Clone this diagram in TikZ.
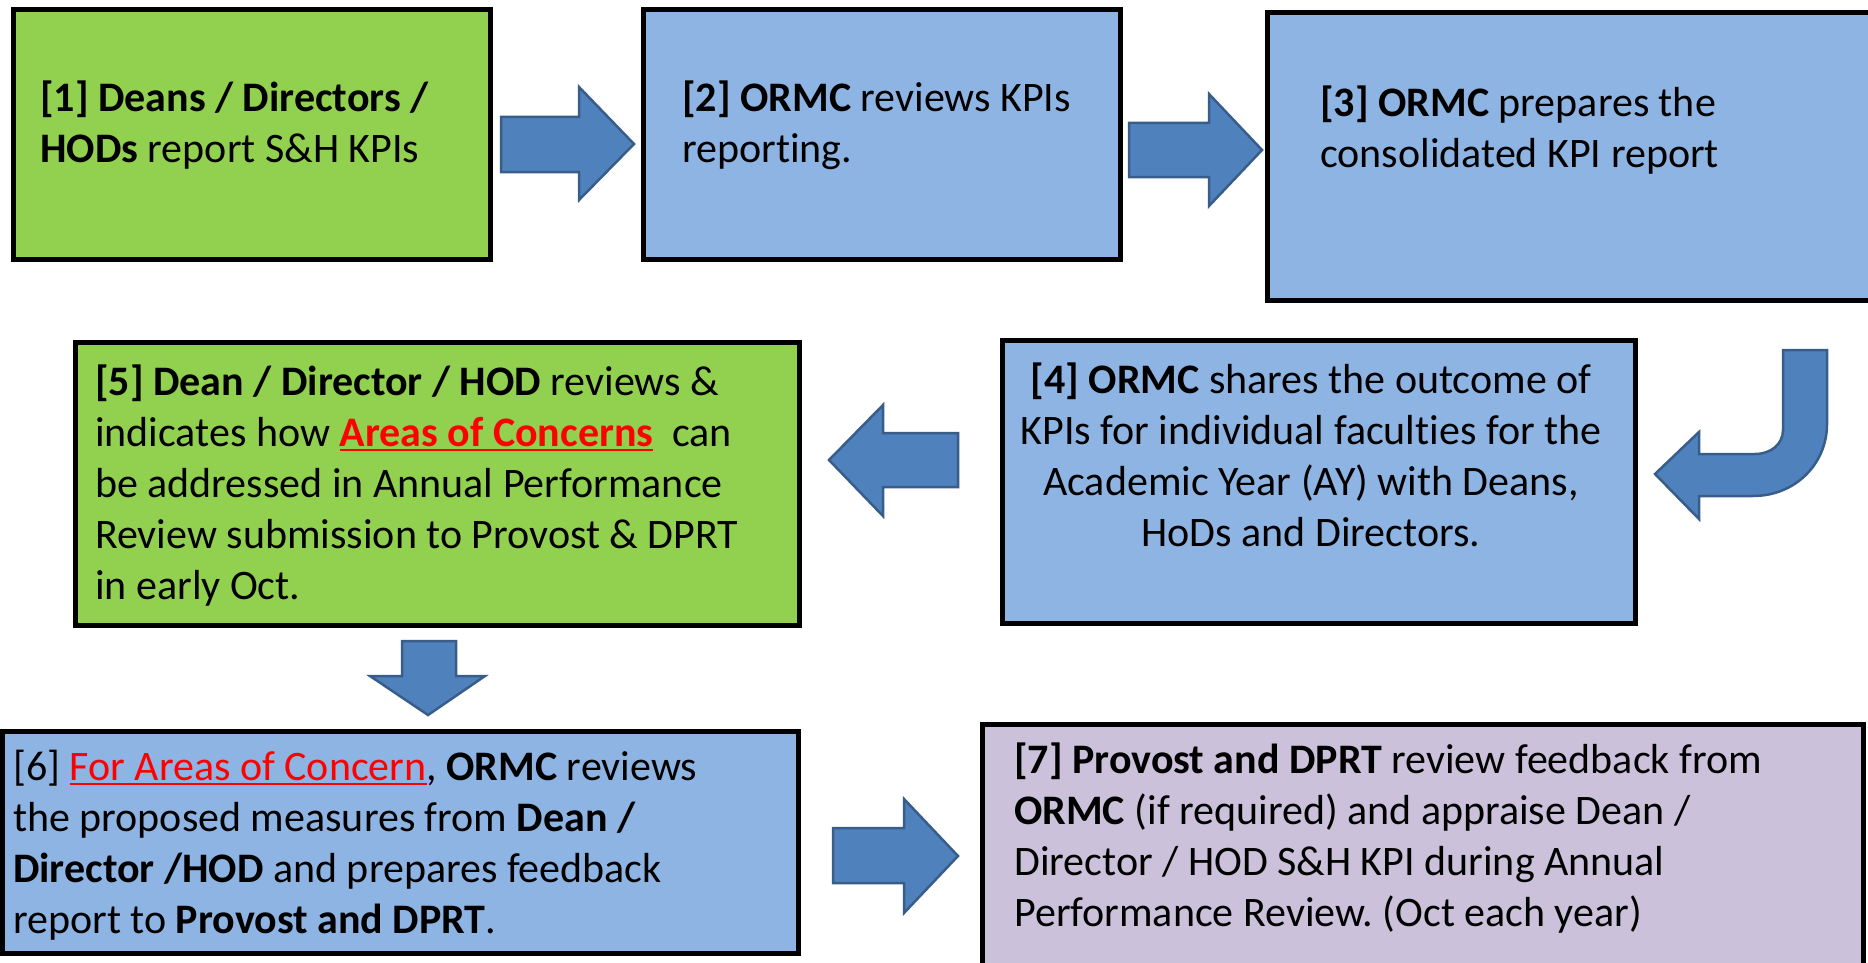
\documentclass[tikz,border=0pt]{standalone}
\usepackage{fontspec}
\setmainfont{Carlito}[Ligatures=NoCommon]
\frenchspacing
\definecolor{gfill}{HTML}{92D050}
\definecolor{bfill}{HTML}{8EB4E3}
\definecolor{pfill}{HTML}{CCC1DA}
\definecolor{afill}{HTML}{4F81BD}
\definecolor{aline}{HTML}{385D8A}
\definecolor{ured}{HTML}{FF0000}
\newsavebox\ulbox
\newcommand\redul[1]{\sbox\ulbox{\color{ured}#1}\rlap{\color{ured}\rule[-5pt]{\wd\ulbox}{2.5pt}}\usebox\ulbox}
\begin{document}
\begin{tikzpicture}[x=1pt,y=-1pt,
  box/.style={draw=black, line width=5pt, inner sep=0pt, shape=rectangle},
  txt/.style={anchor=base west, inner sep=0pt, align=left, font=\fontsize{42}{51}\selectfont},
  ctxt/.style={anchor=base, inner sep=0pt, align=center, font=\fontsize{42}{51}\selectfont},
  barrow/.style={fill=afill, draw=aline, line width=2.5pt, line join=miter}]
\useasboundingbox (0,0) rectangle (1868,963);
% boxes
\node[box, fill=gfill, minimum width=477pt, minimum height=250pt] (b1) at (252,134.5) {};
\node[box, fill=bfill, minimum width=477pt, minimum height=250pt] (b2) at (882,134.5) {};
\node[box, fill=bfill, minimum width=620pt, minimum height=288pt] (b3) at (1577.5,156.5) {};
\node[box, fill=bfill, minimum width=633pt, minimum height=283pt] (b4) at (1319,482) {};
\node[box, fill=gfill, minimum width=724pt, minimum height=283pt] (b5) at (437.5,484) {};
\node[box, fill=bfill, minimum width=796pt, minimum height=222pt] (b6) at (400.5,842.5) {};
\node[box, fill=pfill, minimum width=881pt, minimum height=260pt] (b7) at (1423,854.5) {};
% texts (anchored at the baseline of the last line)
\node[txt] (t1) at (40,162) {\textbf{[1] Deans / Directors /}\\\textbf{HODs} report S\&H KPIs};
\node[txt] (t2) at (682,162) {\textbf{[2] ORMC} reviews KPIs\\reporting.};
\node[txt] (t3) at (1320,167) {\textbf{[3] ORMC} prepares the\\consolidated KPI report};
\node[ctxt] (t4) at (1311,546) {\textbf{[4] ORMC} shares the outcome of\\KPIs for individual faculties for the\\Academic Year (AY) with Deans,\\HoDs and Directors.};
\node[txt] (t5) at (95,599) {\textbf{[5] Dean / Director / HOD} reviews \&\\indicates how \redul{\textbf{Areas of Concerns}}\ \ can\\be addressed in Annual Performance\\Review submission to Provost \& DPRT\\in early Oct.};
\node[txt] (t6) at (13,933) {[6] \redul{For Areas of Concern}, \textbf{ORMC} reviews\\the proposed measures from \textbf{Dean /}\\\textbf{Director /HOD} and prepares feedback\\report to \textbf{Provost and DPRT}.};
\node[txt] (t7) at (1014,926) {\textbf{[7] Provost and DPRT} review feedback from\\\textbf{ORMC} (if required) and appraise Dean /\\Director / HOD S\&H KPI during Annual\\Performance Review. (Oct each year)};
% block arrows
\draw[barrow] (501,117) -- (579,117) -- (579,87) -- (634,144) -- (579,200) -- (579,172) -- (501,172) -- cycle;
\draw[barrow] (1129,123) -- (1209,123) -- (1209,94) -- (1262,150) -- (1209,206) -- (1209,177) -- (1129,177) -- cycle;
\draw[barrow] (1783,350) -- (1827,350) -- (1827,424) .. controls (1827,464) and (1795,496) .. (1753,496) -- (1699,496) -- (1699,519) -- (1655,474) -- (1699,432) -- (1699,454) -- (1755,454) .. controls (1771,454) and (1783,444) .. (1783,430) -- cycle;
\draw[barrow] (958,433) -- (883,433) -- (883,405) -- (829,460) -- (883,516) -- (883,487) -- (958,487) -- cycle;
\draw[barrow] (402,641) -- (456,641) -- (456,676) -- (485,676) -- (428,715) -- (370,676) -- (402,676) -- cycle;
\draw[barrow] (833,828) -- (904,828) -- (904,799) -- (958,856) -- (904,913) -- (904,883) -- (833,883) -- cycle;
\end{tikzpicture}
\end{document}
